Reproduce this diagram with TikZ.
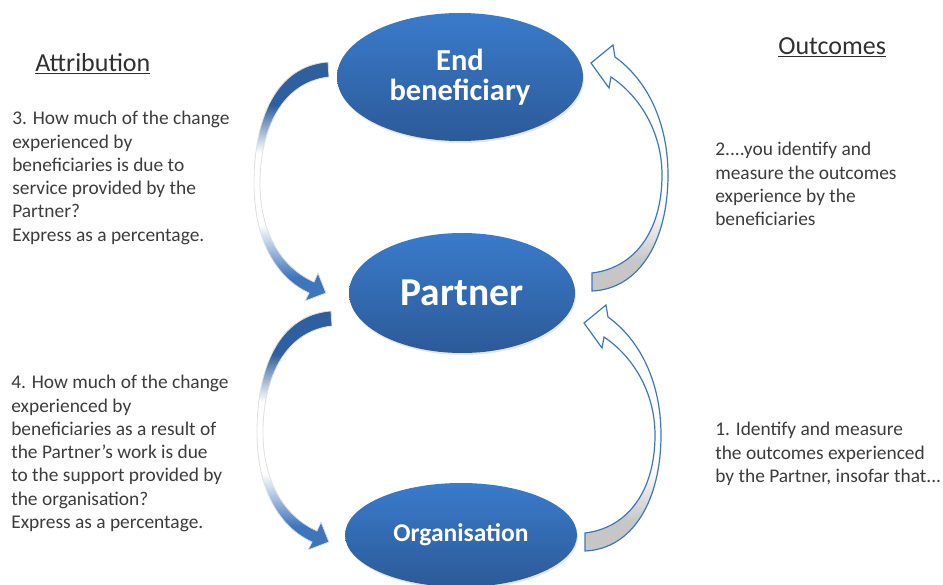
\documentclass[tikz,border=0pt]{standalone}
\usepackage{fontspec}
\setmainfont{Carlito}
\usetikzlibrary{shapes.geometric,shadows}

\definecolor{ellblue}{HTML}{3A7BCB}
\definecolor{ellbluedark}{HTML}{2C5A98}
\definecolor{arcblue}{HTML}{3E76BE}
\definecolor{arcbluedark}{HTML}{2E5F9E}
\definecolor{notegray}{HTML}{3C3C3C}

% blue at both ends, white in the middle
\pgfdeclareverticalshading{attrfade}{100bp}{color(0bp)=(arcblue); color(30bp)=(arcblue);
  color(41bp)=(white); color(56bp)=(white); color(66bp)=(arcbluedark); color(100bp)=(arcbluedark)}
% grey tail, white elsewhere
\pgfdeclareverticalshading{outcfade}{100bp}{color(0bp)=(gray!45); color(31bp)=(gray!45);
  color(42bp)=(white); color(100bp)=(white)}

\tikzset{
  stage/.style={ellipse, top color=ellblue, bottom color=ellbluedark, text=white,
    font=\bfseries, align=center, inner sep=0pt,
    drop shadow={opacity=0.2, shadow xshift=1pt, shadow yshift=-2pt}},
  note/.style={anchor=north west, align=left, inner sep=0pt, text=notegray,
    font=\fontsize{19.4}{23.3}\selectfont},
  heading/.style={anchor=base west, inner sep=0pt, text=notegray!80!black,
    font=\fontsize{26}{28}\selectfont},
  attrarc/.style={shading=attrfade, draw=gray!25, line width=0.8pt},
  outcarc/.style={shading=outcfade, draw=arcblue, line width=1.2pt},
}

% curved arrow on the left, tail at the top
\newcommand\attrarrow[1]{%
  \shadedraw[attrarc, shift={#1}] (328,62)
    .. controls (275,66) and (254,120) .. (254,183)
    .. controls (254,240) and (276,278) .. (309,293)
    -- (305,301) -- (326,293) -- (318,273) -- (314,282)
    .. controls (283,268) and (260,235) .. (260,183)
    .. controls (260,128) and (283,82) .. (329,77) -- cycle;}

% curved arrow on the right, tail at the bottom
\newcommand\outcarrow[1]{%
  \shadedraw[outcarc, shift={#1}] (592,273) -- (592,291)
    .. controls (640,289) and (668,240) .. (668,175)
    .. controls (668,122) and (647,80) .. (615,57)
    -- (613,45) -- (591,63) -- (609,88) -- (611,77)
    .. controls (638,95) and (662,130) .. (662,175)
    .. controls (662,232) and (634,268) .. (592,273) -- cycle;}

\begin{document}
\begin{tikzpicture}[x=1pt, y=-1pt, semithick]
  \useasboundingbox (0,0) rectangle (943,585);

  \attrarrow{(0,0)}
  \attrarrow{(3,249)}
  \outcarrow{(0,0)}
  \outcarrow{(-7,260)}

  \node[stage, minimum width=246pt, minimum height=128pt,
    font=\bfseries\fontsize{30.5}{30}\selectfont] (benef) at (460,77) {End\\beneficiary};
  \node[stage, minimum width=226pt, minimum height=120pt,
    font=\bfseries\fontsize{39.5}{40}\selectfont] (partner) at (462,293) {Partner};
  \node[stage, minimum width=232pt, minimum height=104pt,
    font=\bfseries\fontsize{25.5}{26}\selectfont] (organ) at (461,535) {Organisation};

  \node[heading] (attrib) at (35,72) {\underline{Attribution}};
  \node[heading] (outcomes) at (778,55) {\underline{Outcomes}};

  \node[note] (q3) at (12,111) {3. How much of the change\\experienced by\\beneficiaries is due to\\service provided by the\\Partner?\\Express as a percentage.};
  \node[note] (q4) at (11,375) {4. How much of the change\\experienced by\\beneficiaries as a result of\\the Partner's work is due\\to the support provided by\\the organisation?\\Express as a percentage.};
  \node[note] (q2) at (715,142) {2....you identify and\\measure the outcomes\\experience by the\\beneficiaries};
  \node[note] (q1) at (715,422) {1. Identify and measure\\the outcomes experienced\\by the Partner, insofar that...};

\end{tikzpicture}
\end{document}
